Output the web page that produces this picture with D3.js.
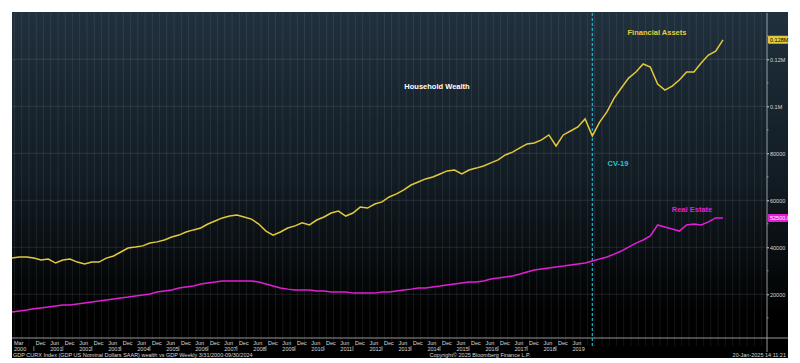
<!DOCTYPE html>
<html>
<head>
<meta charset="utf-8">
<script src="https://cdn.jsdelivr.net/npm/d3@7"></script>
<style>
  body { margin: 0; background: #fff; }
  svg { display: block; font-family: "Liberation Sans", Arial, sans-serif; }
  .ann { font-weight: bold; font-size: 7.5px; }
  .small { font-size: 5.5px; fill: #d8d8d8; }
</style>
</head>
<body>
<div id="chart"></div>
<script>
var svgWidth = 800;
var svgHeight = 363;

// plot frame
var frame = { left: 12, top: 12, right: 788, bottom: 358 };
var plot = { left: 12, top: 13, right: 767, bottom: 338 };

// quarterly data, Q1 2000 .. Q3 2024 (thousands)
var firstQuarter = new Date(2000, 2, 31);
var financialAssets = [
  35.4, 35.9, 35.9, 35.4,
  34.6, 35.0, 33.3, 34.6,
  35.0, 33.7, 32.9, 33.7,
  33.7, 35.4, 36.3, 38.0,
  39.7, 40.1, 40.6, 41.8,
  42.3, 43.1, 44.4, 45.2,
  46.5, 47.4, 48.2, 49.9,
  51.2, 52.5, 53.3, 53.7,
  52.9, 52.0, 49.9, 46.9,
  45.2, 46.5, 48.2, 49.1,
  50.4, 49.5, 51.6, 52.9,
  54.6, 55.4, 53.3, 54.6,
  57.1, 56.7, 58.4, 59.3,
  61.4, 62.7, 64.4, 66.5,
  67.8, 69.1, 69.9, 71.2,
  72.5, 72.9, 71.2, 72.9,
  73.7, 74.6, 75.9, 77.2,
  79.3, 80.5, 82.3, 84.0,
  84.4, 85.7, 87.8, 83.1,
  87.8, 89.5, 91.2, 94.6,
  87.4, 93.3, 97.6, 103.5,
  107.8, 112.0, 114.6, 118.0,
  116.7, 109.5, 106.9, 108.6,
  111.2, 114.6, 114.6, 118.4,
  121.8, 123.5, 128.3
];
var realEstate = [
  12.5, 12.9, 13.3, 13.8,
  14.2, 14.6, 15.0, 15.4,
  15.4, 15.9, 16.3, 16.7,
  17.1, 17.6, 18.0, 18.4,
  18.8, 19.3, 19.7, 20.1,
  21.0, 21.4, 21.8, 22.7,
  23.1, 23.5, 24.4, 24.8,
  25.2, 25.7, 25.7, 25.7,
  25.7, 25.7, 25.2, 24.4,
  23.5, 22.7, 22.2, 21.8,
  21.8, 21.8, 21.4, 21.4,
  21.0, 21.0, 21.0, 20.5,
  20.5, 20.5, 20.5, 21.0,
  21.0, 21.4, 21.8, 22.2,
  22.7, 22.7, 23.1, 23.5,
  24.0, 24.4, 24.8, 25.2,
  25.2, 25.7, 26.5, 26.9,
  27.4, 27.8, 28.6, 29.5,
  30.3, 30.8, 31.2, 31.6,
  32.0, 32.5, 32.9, 33.3,
  34.2, 35.0, 35.9, 37.1,
  38.4, 40.1, 41.8, 43.1,
  44.8, 49.5, 48.6, 47.8,
  46.9, 49.5, 49.9, 49.5,
  50.8, 52.5, 52.5
];
var yTicks = [20000, 40000, 60000, 80000, 100000, 120000];
var labelYears = d3.range(2000, 2020);
var covidDate = new Date(2020, 2, 31);

var dates = financialAssets.map((d, i) => d3.timeMonth.offset(firstQuarter, i * 3));
var lastDate = dates[dates.length - 1];

var svg = d3.select("#chart")
  .append("svg")
  .attr("width", svgWidth)
  .attr("height", svgHeight);

var defs = svg.append("defs");
var grad = defs.append("linearGradient")
  .attr("id", "bg")
  .attr("x1", 0).attr("y1", 0).attr("x2", 0).attr("y2", 1);
grad.append("stop").attr("offset", "0%").attr("stop-color", "#20303d");
grad.append("stop").attr("offset", "50%").attr("stop-color", "#111b22");
grad.append("stop").attr("offset", "88%").attr("stop-color", "#000000");
grad.append("stop").attr("offset", "100%").attr("stop-color", "#000000");

svg.append("rect")
  .attr("x", frame.left).attr("y", frame.top)
  .attr("width", frame.right - frame.left)
  .attr("height", frame.bottom - frame.top)
  .attr("fill", "url(#bg)");

// footer strip
svg.append("rect")
  .attr("x", frame.left).attr("y", 351)
  .attr("width", frame.right - frame.left).attr("height", frame.bottom - 351)
  .attr("fill", "#000");

// scales
var x = d3.scaleTime()
  .domain([firstQuarter, lastDate])
  .range([plot.left, 723]);

var y = d3.scaleLinear()
  .domain([1400, 139700])
  .range([plot.bottom, plot.top]);

// vertical grid: quarterly
var gridDates = d3.timeMonth.every(3).range(new Date(2000, 2, 1), new Date(2026, 3, 1))
  .map(d => d3.timeDay.offset(d3.timeMonth.offset(d, 1), -1));
svg.append("g")
  .selectAll("line")
  .data(gridDates.filter(d => x(d) >= plot.left && x(d) < plot.right))
  .enter()
  .append("line")
  .attr("x1", d => x(d)).attr("x2", d => x(d))
  .attr("y1", plot.top).attr("y2", 346)
  .attr("stroke", "#ffffff")
  .attr("stroke-opacity", d => (d.getMonth() === 5 || d.getMonth() === 11) ? 0.17 : 0.1)
  .attr("stroke-width", 0.8);

// horizontal grid
svg.append("g")
  .selectAll("line")
  .data(yTicks)
  .enter()
  .append("line")
  .attr("x1", plot.left).attr("x2", plot.right)
  .attr("y1", d => y(d)).attr("y2", d => y(d))
  .attr("stroke", "#ffffff")
  .attr("stroke-opacity", 0.13)
  .attr("stroke-width", 0.8);

// x axis line
svg.append("line")
  .attr("x1", plot.left).attr("x2", frame.right)
  .attr("y1", plot.bottom).attr("y2", plot.bottom)
  .attr("stroke", "#bdbdbd").attr("stroke-width", 0.8);

// right axis
var rightAxis = d3.axisRight(y)
  .tickValues(yTicks)
  .tickSize(2)
  .tickFormat(d => d >= 100000 ? (d / 1e6) + "M" : d);
var yAxis = svg.append("g")
  .attr("transform", `translate(${plot.right}, 0)`)
  .call(rightAxis);
yAxis.select(".domain").remove();
yAxis.selectAll("line").attr("stroke", "#cfcfcf");
yAxis.selectAll("text").attr("class", "small").attr("x", 3);
svg.append("line")
  .attr("x1", plot.right).attr("x2", plot.right)
  .attr("y1", plot.top).attr("y2", 352)
  .attr("stroke", "#bdbdbd").attr("stroke-width", 0.8);
// minor ticks
svg.append("g")
  .selectAll("line")
  .data(d3.range(10000, 140000, 20000))
  .enter()
  .append("line")
  .attr("x1", plot.right).attr("x2", plot.right + 1.5)
  .attr("y1", d => y(d)).attr("y2", d => y(d))
  .attr("stroke", "#cfcfcf").attr("stroke-width", 0.6);

// x labels: Jun / Dec row and years row
var monthTicks = [new Date(2000, 2, 31), new Date(2000, 11, 31)];
labelYears.slice(1).forEach(yr => {
  monthTicks.push(new Date(yr, 5, 30));
  if (yr < 2019) monthTicks.push(new Date(yr, 11, 31));
});
var monthFmt = d3.timeFormat("%b");
svg.append("g")
  .selectAll("text")
  .data(monthTicks)
  .enter()
  .append("text")
  .attr("class", "small")
  .attr("x", d => x(d) + 2)
  .attr("y", 345)
  .text(d => monthFmt(d));

svg.append("g")
  .selectAll("text")
  .data(labelYears)
  .enter()
  .append("text")
  .attr("class", "small")
  .attr("x", d => d === 2000 ? x(new Date(2000, 2, 31)) + 2 : x(new Date(d, 5, 30)) + 2)
  .attr("y", 351)
  .text(d => d);

svg.append("g")
  .selectAll("line")
  .data(labelYears.slice(0, -1))
  .enter()
  .append("line")
  .attr("x1", d => x(new Date(d, 11, 31))).attr("x2", d => x(new Date(d, 11, 31)))
  .attr("y1", 346).attr("y2", 351)
  .attr("stroke", "#cfcfcf").attr("stroke-width", 0.6);

// CV-19 line
svg.append("line")
  .attr("x1", x(covidDate)).attr("x2", x(covidDate))
  .attr("y1", plot.top).attr("y2", 346)
  .attr("stroke", "#27b3c9")
  .attr("stroke-width", 1.2)
  .attr("stroke-dasharray", "3,2");

// lines
var line = d3.line()
  .x((d, i) => x(dates[i]))
  .y(d => y(d * 1000));

svg.append("path")
  .datum(realEstate)
  .attr("d", line)
  .attr("fill", "none")
  .attr("stroke", "#e31ed6")
  .attr("stroke-width", 1.5);

svg.append("path")
  .datum(financialAssets)
  .attr("d", line)
  .attr("fill", "none")
  .attr("stroke", "#e3c83c")
  .attr("stroke-width", 1.5);

// last value tags
function tag(value, color, text) {
  var g = svg.append("g");
  g.append("rect")
    .attr("x", plot.right + 1).attr("y", y(value) - 4)
    .attr("width", frame.right - plot.right - 1).attr("height", 8)
    .attr("rx", 1)
    .attr("fill", color);
  g.append("text")
    .attr("x", plot.right + 3).attr("y", y(value) + 2)
    .attr("font-size", "5.5px")
    .attr("fill", color === "#e3c83c" ? "#000" : "#fff")
    .text(text);
}
var lastFA = financialAssets[financialAssets.length - 1] * 1000;
var lastRE = realEstate[realEstate.length - 1] * 1000;
tag(lastFA, "#e3c83c", d3.format(".3f")(lastFA / 1e6) + "M");
tag(lastRE, "#e31ed6", d3.format(".1f")(lastRE));

// annotations
svg.append("text").attr("class", "ann")
  .attr("x", 437).attr("y", 89)
  .attr("text-anchor", "middle")
  .attr("fill", "#ffffff")
  .text("Household Wealth");
svg.append("text").attr("class", "ann")
  .attr("x", 657).attr("y", 35)
  .attr("text-anchor", "middle")
  .attr("fill", "#e8cc3c")
  .text("Financial Assets");
svg.append("text").attr("class", "ann")
  .attr("x", 618).attr("y", 166)
  .attr("text-anchor", "middle")
  .attr("fill", "#2cc0d8")
  .text("CV-19");
svg.append("text").attr("class", "ann")
  .attr("x", 692).attr("y", 212)
  .attr("text-anchor", "middle")
  .attr("fill", "#e31ed6")
  .text("Real Estate");

// footer
svg.append("text").attr("class", "small")
  .attr("x", 13).attr("y", 357)
  .attr("font-size", "4.2px")
  .text("GDP CURX Index (GDP US Nominal Dollars SAAR) wealth vs GDP  Weekly 3/31/2000-09/30/2024");
svg.append("text").attr("class", "small")
  .attr("x", 480).attr("y", 357)
  .attr("text-anchor", "middle")
  .attr("font-size", "4.2px")
  .text("Copyright\u00a9 2025 Bloomberg Finance L.P.");
svg.append("text").attr("class", "small")
  .attr("x", 786).attr("y", 357)
  .attr("text-anchor", "end")
  .attr("font-size", "4.2px")
  .text("20-Jan-2025 14:11:21");
</script>
</body>
</html>
